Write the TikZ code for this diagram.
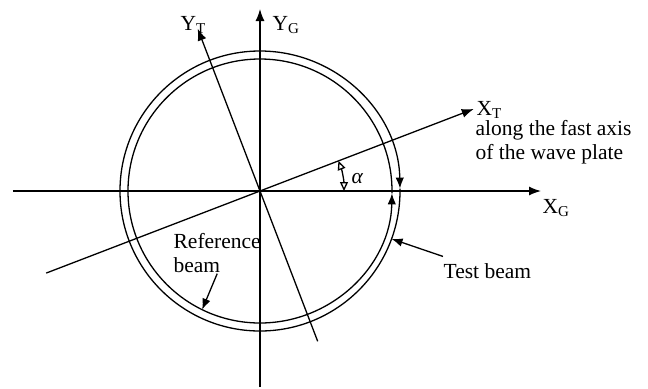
\documentclass[tikz,border=0pt]{standalone}
\usepackage{fontspec}
\setmainfont{Liberation Serif}
\usetikzlibrary{arrows.meta}

\begin{document}
\begin{tikzpicture}[
    x=0.5pt, y=0.5pt, line width=0.65pt,
    every node/.style={font=\fontsize{10.75}{12}\selectfont, inner sep=0pt},
    axis/.style={-{Latex[length=6pt,width=4.5pt]}},
    beam/.style={-{Latex[length=5.5pt,width=4.2pt]}},
    angmark/.style={{Triangle[open,length=4.5pt,width=4pt]}-{Triangle[open,length=4.5pt,width=4pt]}}
]
\useasboundingbox (-260,-197) rectangle (388,191);
\coordinate (O) at (0,0);
% global axes
\coordinate (xgl) at (-247,0);
\coordinate (xgr) at (281,0);
\coordinate (ygb) at (0,-196);
\coordinate (ygt) at (0,182);
% wave plate axes
\coordinate (xtl) at (201:229);
\coordinate (xtr) at (21:229);
\coordinate (ytb) at (291:161);
\coordinate (ytt) at (111:174);

\draw[axis] (xgl) -- (xgr);
\draw[axis] (ygb) -- (ygt);
\draw (xtl) -- (O);
\draw[axis] (O) -- (xtr);
\draw (ytb) -- (O);
\draw[axis] (O) -- (ytt);

% test and reference beams
\draw[beam] (1:140) arc[start angle=361, end angle=1, radius=140];
\draw[beam] (-361:132) arc[start angle=-361, end angle=-1, radius=132];

% angle between the axes
\draw[angmark] (0:84) arc[start angle=0, end angle=21, radius=84];

\node[anchor=base west] (lxg) at (282,-22) {X\textsubscript{G}};
\node[anchor=base west] (lyg) at (12,161) {Y\textsubscript{G}};
\node[anchor=base west] (lyt) at (-80,161) {Y\textsubscript{T}};
\node[anchor=base west] (lxt) at (216,76) {X\textsubscript{T}};
\node[anchor=north west, align=left] (lfast) at (215,71) {along the fast axis\\of the wave plate};
\node[anchor=north west, align=left] (lref) at (-87,-42) {Reference\\beam};
\node[anchor=base west] (ltest) at (183,-87) {Test beam};
\node[anchor=base west] (lalpha) at (91,8) {\itshape α};

\coordinate (refhit) at (244:132);
\coordinate (testhit) at (-20:140);
\draw[beam] (lref.south) -- (refhit);
\draw[beam] ([yshift=3pt]ltest.north west) -- (testhit);
\end{tikzpicture}
\end{document}
